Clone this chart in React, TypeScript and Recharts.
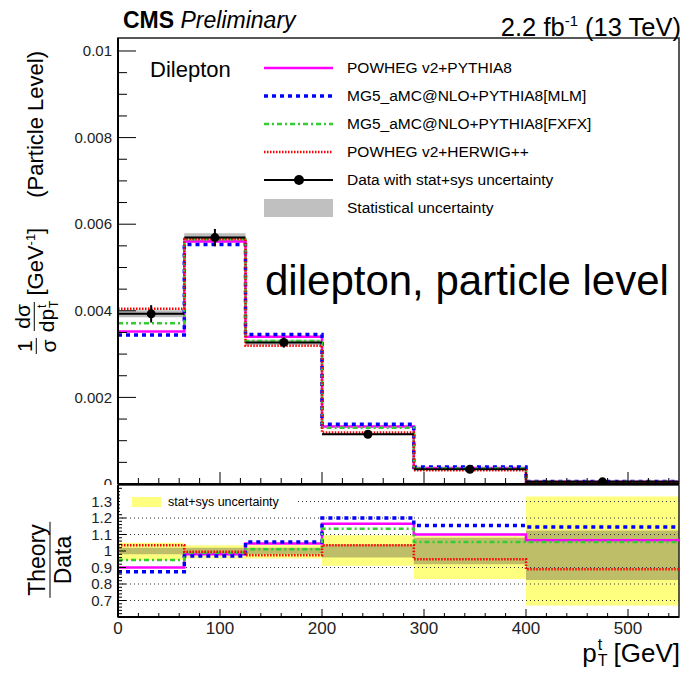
import React from "react";
import {
  ComposedChart,
  Line,
  Area,
  Scatter,
  ErrorBar,
  XAxis,
  YAxis,
  ReferenceLine,
  ReferenceArea,
} from "recharts";

const FONT = '"Liberation Sans", Arial, Helvetica, sans-serif';

// top-quark pT bin edges [GeV]
const binEdges = [0, 65, 125, 200, 290, 400, 550];

// normalised differential cross section (data)
const dataXsec = [0.00393, 0.00569, 0.00327, 0.00115, 0.00034, 0.00005];
const dataTotErr = [0.0002, 0.0002, 0.00012, 0.00005, 0.00002, 0.00001];
const dataStatErr = [0.00008, 0.0001, 0.00006, 0.00002, 0.00001, 0.000005];

// predictions
const powhegPythia8 = [0.00352, 0.0056, 0.0034, 0.00133, 0.00037, 0.000053];
const mg5Mlm = [0.00344, 0.00553, 0.00345, 0.00138, 0.00039, 0.000057];
const mg5Fxfx = [0.00371, 0.00565, 0.0033, 0.0013, 0.00036, 0.000053];
const powhegHerwig = [0.00405, 0.00566, 0.00319, 0.00119, 0.00032, 0.000045];

// theory / data
const ratioPowhegPythia8 = [0.9, 0.98, 1.045, 1.165, 1.1, 1.065];
const ratioMg5Mlm = [0.875, 0.97, 1.055, 1.2, 1.155, 1.145];
const ratioMg5Fxfx = [0.945, 0.99, 1.01, 1.135, 1.055, 1.055];
const ratioPowhegHerwig = [1.035, 0.995, 0.975, 1.035, 0.95, 0.89];
const ratioTotLo = [0.945, 0.955, 0.955, 0.91, 0.83, 0.67];
const ratioTotHi = [1.05, 1.035, 1.035, 1.095, 1.09, 1.33];
const ratioStatLo = [0.98, 0.98, 0.98, 0.96, 0.92, 0.825];
const ratioStatHi = [1.02, 1.02, 1.02, 1.04, 1.08, 1.125];

// axis ticks
const mainYMajor = [0, 0.002, 0.004, 0.006, 0.008, 0.01];
const ratioYMajor = [0.7, 0.8, 0.9, 1, 1.1, 1.2, 1.3];
const xMajor = [0, 100, 200, 300, 400, 500];
const ratioGrid = [0.7, 0.8, 0.9, 1.1, 1.2, 1.3];

const X_MAX = 550;
const MAIN_Y_MAX = 0.0103;

const xTicks: number[] = [];
for (let v = 0; v <= 540; v += 20) xTicks.push(v);
const mainYTicks: number[] = [];
for (let k = 0; k <= 20; k++) mainYTicks.push(+(k * 0.0005).toFixed(4));
const ratioYTicks: number[] = [];
for (let k = 31; k <= 69; k++) ratioYTicks.push(+(k * 0.02).toFixed(2));

const isIn = (list: number[], v: number) => list.some((m) => Math.abs(m - v) < 1e-9);

const lastBin = binEdges.length - 2;
const atEdge = (arr: number[], i: number) => arr[Math.min(i, lastBin)];

// one row per bin edge, the closing edge repeats the last bin for the step
const mainRows = binEdges.map((x, i) => ({
  x,
  pp8: atEdge(powhegPythia8, i),
  mlm: atEdge(mg5Mlm, i),
  fxfx: atEdge(mg5Fxfx, i),
  hw: atEdge(powhegHerwig, i),
  stat: [atEdge(dataXsec, i) - atEdge(dataStatErr, i), atEdge(dataXsec, i) + atEdge(dataStatErr, i)],
}));

const ratioRows = binEdges.map((x, i) => ({
  x,
  pp8: atEdge(ratioPowhegPythia8, i),
  mlm: atEdge(ratioMg5Mlm, i),
  fxfx: atEdge(ratioMg5Fxfx, i),
  hw: atEdge(ratioPowhegHerwig, i),
  tot: [atEdge(ratioTotLo, i), atEdge(ratioTotHi, i)],
  stat: [atEdge(ratioStatLo, i), atEdge(ratioStatHi, i)],
}));

const dataPoints = dataXsec.map((y, i) => ({
  x: (binEdges[i] + binEdges[i + 1]) / 2,
  y,
  xErr: (binEdges[i + 1] - binEdges[i]) / 2,
  yErr: dataTotErr[i],
}));

const styles = {
  pp8: { stroke: "#ff00ff", strokeWidth: 2.5 },
  mlm: { stroke: "#0000ff", strokeWidth: 3.5, strokeDasharray: "4 4" },
  fxfx: { stroke: "#33cc33", strokeWidth: 2.5, strokeDasharray: "5 3 2 3" },
  hw: { stroke: "#ff0000", strokeWidth: 2.5, strokeDasharray: "1.5 1.5" },
};

const legendItems = [
  { label: "POWHEG v2+PYTHIA8", key: "pp8" },
  { label: "MG5_aMC@NLO+PYTHIA8[MLM]", key: "mlm" },
  { label: "MG5_aMC@NLO+PYTHIA8[FXFX]", key: "fxfx" },
  { label: "POWHEG v2+HERWIG++", key: "hw" },
  { label: "Data with stat+sys uncertainty", key: "data" },
  { label: "Statistical uncertainty", key: "stat" },
];

// ROOT-style ticks: drawn inward from the axis line
const LeftTick = (p: any, majors: number[], fmt: (v: number) => string, majorLen: number, minorLen: number) => {
  const v = p.payload.value;
  const major = isIn(majors, v);
  return (
    <g>
      <line x1={p.x} x2={p.x + (major ? majorLen : minorLen)} y1={p.y} y2={p.y} stroke="#000" strokeWidth={1} />
      {major && (
        <text x={p.x - 6} y={p.y} dy="0.35em" textAnchor="end" fontSize={15} fill="#222" fontFamily={FONT}>
          {fmt(v)}
        </text>
      )}
    </g>
  );
};

const BottomTick = (p: any, majorLen: number, minorLen: number, withLabel: boolean) => {
  const v = p.payload.value;
  const major = isIn(xMajor, v);
  return (
    <g>
      <line x1={p.x} x2={p.x} y1={p.y} y2={p.y - (major ? majorLen : minorLen)} stroke="#000" strokeWidth={1} />
      {withLabel && major && (
        <text x={p.x} y={p.y + 17} textAnchor="middle" fontSize={17} fill="#222" fontFamily={FONT}>
          {v}
        </text>
      )}
    </g>
  );
};

const Frac = ({ num, den, size }: { num: React.ReactNode; den: React.ReactNode; size: number }) => (
  <span
    style={{
      display: "inline-flex",
      flexDirection: "column",
      alignItems: "center",
      fontSize: size,
      lineHeight: 1,
      margin: "0 3px",
    }}
  >
    <span style={{ borderBottom: "1.5px solid #000", padding: "0 2px 1px" }}>{num}</span>
    <span style={{ paddingTop: 1 }}>{den}</span>
  </span>
);

const Scripts = ({ sup, sub, size }: { sup: string; sub: string; size: number }) => (
  <span
    style={{
      display: "inline-flex",
      flexDirection: "column",
      fontSize: size,
      lineHeight: 1,
      marginLeft: 1,
      verticalAlign: "middle",
    }}
  >
    <span>{sup}</span>
    <span>{sub}</span>
  </span>
);

const LegendSwatch = ({ kind }: { kind: string }) => (
  <svg width={70} height={20} style={{ display: "block" }}>
    {kind === "stat" && <rect x={0} y={1} width={69} height={18} fill="#c0c0c0" />}
    {kind === "data" && (
      <>
        <line x1={0} x2={69} y1={10} y2={10} stroke="#000" strokeWidth={2} />
        <circle cx={35} cy={10} r={5} fill="#000" />
      </>
    )}
    {(styles as any)[kind] && <line x1={0} x2={69} y1={10} y2={10} {...(styles as any)[kind]} />}
  </svg>
);

const abs = (left: number, top: number, extra: React.CSSProperties = {}): React.CSSProperties => ({
  position: "absolute",
  left,
  top,
  whiteSpace: "nowrap",
  ...extra,
});

export default function App() {
  return (
    <div
      style={{
        position: "absolute",
        left: 0,
        top: 0,
        width: 683,
        height: 680,
        background: "#fff",
        fontFamily: FONT,
        color: "#000",
        overflow: "hidden",
      }}
    >
      {/* upper panel: normalised cross section */}
      <div style={abs(0, 0)}>
        <ComposedChart width={683} height={490} data={mainRows} margin={{ top: 38, right: 4, bottom: 0, left: 0 }}>
          <XAxis
            dataKey="x"
            type="number"
            domain={[0, X_MAX]}
            ticks={xTicks}
            interval={0}
            height={6}
            tickSize={0}
            tickMargin={0}
            allowDataOverflow
            axisLine={{ stroke: "#000", strokeWidth: 2 }}
            tick={(p: any) => BottomTick(p, 12, 6, false)}
          />
          <YAxis
            type="number"
            domain={[0, MAIN_Y_MAX]}
            ticks={mainYTicks}
            interval={0}
            width={118}
            tickSize={0}
            tickMargin={0}
            allowDataOverflow
            axisLine={{ stroke: "#000", strokeWidth: 2 }}
            tick={(p: any) => LeftTick(p, mainYMajor, (v) => String(+v.toFixed(4)), 18, 9)}
          />
          <Area
            type="stepAfter"
            dataKey="stat"
            fill="#bdbdbd"
            fillOpacity={1}
            stroke="none"
            isAnimationActive={false}
          />
          <Line type="stepAfter" dataKey="pp8" {...styles.pp8} dot={false} isAnimationActive={false} />
          <Line type="stepAfter" dataKey="mlm" {...styles.mlm} dot={false} isAnimationActive={false} />
          <Line type="stepAfter" dataKey="fxfx" {...styles.fxfx} dot={false} isAnimationActive={false} />
          <Line type="stepAfter" dataKey="hw" {...styles.hw} dot={false} isAnimationActive={false} />
          <Scatter
            data={dataPoints}
            dataKey="y"
            isAnimationActive={false}
            shape={(p: any) => <circle cx={p.cx} cy={p.cy} r={4.5} fill="#000" />}
          >
            <ErrorBar dataKey="xErr" direction="x" width={0} stroke="#000" strokeWidth={2} isAnimationActive={false} />
            <ErrorBar dataKey="yErr" direction="y" width={0} stroke="#000" strokeWidth={2} isAnimationActive={false} />
          </Scatter>
          <ReferenceArea x1={0} x2={X_MAX} y1={0} y2={MAIN_Y_MAX} fill="none" stroke="#222" strokeWidth={1.5} />
        </ComposedChart>
      </div>

      {/* lower panel: theory / data */}
      <div style={abs(0, 485, { width: 683, height: 195, background: "#fff" })}>
        <ComposedChart width={683} height={195} data={ratioRows} margin={{ top: 0, right: 4, bottom: 0, left: 0 }}>
          <XAxis
            dataKey="x"
            type="number"
            domain={[0, X_MAX]}
            ticks={xTicks}
            interval={0}
            height={63}
            tickSize={0}
            tickMargin={0}
            allowDataOverflow
            axisLine={{ stroke: "#000", strokeWidth: 2 }}
            tick={(p: any) => BottomTick(p, 8, 4, true)}
          />
          <YAxis
            type="number"
            domain={[0.6, 1.4]}
            ticks={ratioYTicks}
            interval={0}
            width={118}
            tickSize={0}
            tickMargin={0}
            allowDataOverflow
            axisLine={{ stroke: "#000", strokeWidth: 2 }}
            tick={(p: any) => LeftTick(p, ratioYMajor, (v) => String(+v.toFixed(2)), 8, 4)}
          />
          {ratioGrid.map((g) => (
            <ReferenceLine key={g} y={g} stroke="#333" strokeWidth={1} strokeDasharray="1 3" />
          ))}
          <Area
            type="stepAfter"
            dataKey="tot"
            fill="#ffff00"
            fillOpacity={0.5}
            stroke="none"
            isAnimationActive={false}
          />
          <Area
            type="stepAfter"
            dataKey="stat"
            fill="#6e6e50"
            fillOpacity={0.45}
            stroke="none"
            isAnimationActive={false}
          />
          <Line type="stepAfter" dataKey="pp8" {...styles.pp8} dot={false} isAnimationActive={false} />
          <Line type="stepAfter" dataKey="mlm" {...styles.mlm} dot={false} isAnimationActive={false} />
          <Line type="stepAfter" dataKey="fxfx" {...styles.fxfx} dot={false} isAnimationActive={false} />
          <Line type="stepAfter" dataKey="hw" {...styles.hw} dot={false} isAnimationActive={false} />
          <ReferenceArea x1={0} x2={X_MAX} y1={0.6} y2={1.4} fill="none" stroke="#222" strokeWidth={1.5} />
        </ComposedChart>
      </div>

      {/* header */}
      <div style={abs(123, 9, { fontSize: 23, lineHeight: "23px" })}>
        <b>CMS</b> <i>Preliminary</i>
      </div>
      <div style={{ position: "absolute", right: 2, top: 8, fontSize: 25.5, lineHeight: "25px", whiteSpace: "nowrap" }}>
        2.2 fb<sup style={{ fontSize: 15 }}>-1</sup> (13 TeV)
      </div>

      {/* in-plot labels */}
      <div style={abs(150, 59, { fontSize: 22, lineHeight: "22px" })}>Dilepton</div>
      <div style={abs(265, 260, { fontSize: 42, lineHeight: "42px" })}>dilepton, particle level</div>

      {/* legend */}
      {legendItems.map((it, i) => (
        <div key={it.key} style={abs(264, 58 + 28 * i, { height: 20, display: "flex", alignItems: "center" })}>
          <LegendSwatch kind={it.key} />
          <span style={{ marginLeft: 13, fontSize: 15.5 }}>{it.label}</span>
        </div>
      ))}

      {/* ratio legend */}
      <div
        style={abs(120, 490, {
          width: 178,
          height: 23,
          background: "#fff",
          display: "flex",
          alignItems: "center",
        })}
      >
        <span style={{ width: 29, height: 10, marginLeft: 12, background: "rgba(255,255,0,0.5)" }} />
        <span style={{ marginLeft: 7, fontSize: 12.5 }}>stat+sys uncertainty</span>
      </div>

      {/* axis titles */}
      <div
        style={abs(36, 204, {
          transform: "translate(-50%, -50%) rotate(-90deg)",
          display: "flex",
          alignItems: "center",
          fontSize: 22,
        })}
      >
        <Frac num="1" den="σ" size={21} />
        <Frac
          num="dσ"
          den={
            <span>
              dp
              <Scripts sup="t" sub="T" size={12} />
            </span>
          }
          size={21}
        />
        <span style={{ marginLeft: 2 }}>
          [GeV<sup style={{ fontSize: 13 }}>-1</sup>]
        </span>
        <span style={{ marginLeft: 30 }}>(Particle Level)</span>
      </div>
      <div style={abs(50, 560, { transform: "translate(-50%, -50%) rotate(-90deg)" })}>
        <Frac num="Theory" den="Data" size={23} />
      </div>
      <div
        style={{
          position: "absolute",
          right: 3,
          top: 637,
          fontSize: 26,
          lineHeight: "26px",
          whiteSpace: "nowrap",
          display: "flex",
          alignItems: "center",
        }}
      >
        <span>p</span>
        <Scripts sup="t" sub="T" size={16} />
        <span style={{ marginLeft: 6 }}>[GeV]</span>
      </div>
    </div>
  );
}
